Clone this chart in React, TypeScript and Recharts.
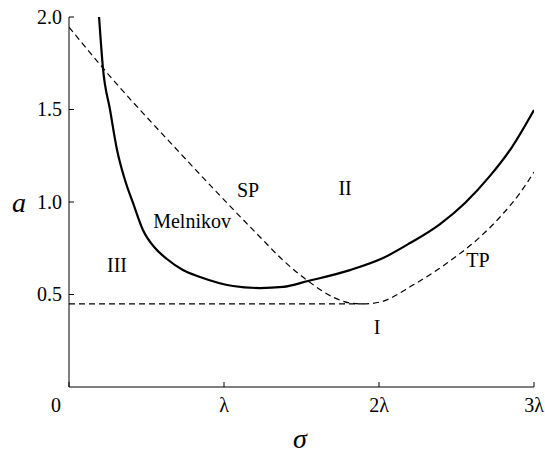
import React from "react";
import {
  LineChart,
  Line,
  XAxis,
  YAxis,
  ReferenceDot,
} from "recharts";

// σ measured in units of λ, a is the forcing amplitude
const melnikovS = [0.194, 0.219, 0.265, 0.31, 0.361, 0.413, 0.477, 0.555, 0.632, 0.735, 0.845, 1.058, 1.232, 1.381, 1.542, 1.813, 2.026, 2.2, 2.394, 2.555, 2.716, 2.858, 3.0];
const melnikovA = [2.0, 1.724, 1.497, 1.281, 1.119, 0.995, 0.849, 0.751, 0.692, 0.632, 0.595, 0.546, 0.535, 0.541, 0.573, 0.632, 0.697, 0.778, 0.881, 0.995, 1.141, 1.297, 1.497];

// saddle-point branch running into the turning-point branch
const sptpS = [0, 0.219, 0.716, 1.232, 1.381, 1.542, 1.703, 1.813, 1.897, 2.006, 2.219, 2.439, 2.652, 2.781, 2.91, 3.0];
const sptpA = [1.945, 1.724, 1.265, 0.811, 0.685, 0.573, 0.486, 0.454, 0.449, 0.459, 0.551, 0.67, 0.811, 0.919, 1.049, 1.162];

// threshold for region I
const thresholdS = [0, 1.9];
const thresholdA = [0.449, 0.449];

const xTicks = [0, 1, 2, 3];
const xTickLabels = ["0", "λ", "2λ", "3λ"];
const yTicks = [0.5, 1.0, 1.5, 2.0];

const regionText = ["III", "Melnikov", "SP", "II", "TP", "I"];
const regionS = [0.31, 0.794, 1.155, 1.781, 2.639, 1.987];
const regionA = [0.66, 0.897, 1.065, 1.076, 0.686, 0.324];

const FONT = "'Liberation Serif', 'Times New Roman', serif";

const zip = (s: number[], a: number[]) => s.map((v, i) => ({ s: v, a: a[i] }));

const melnikov = zip(melnikovS, melnikovA);
const sptp = zip(sptpS, sptpA);
const threshold = zip(thresholdS, thresholdA);
const regions = regionText.map((t, i) => ({ t, s: regionS[i], a: regionA[i] }));

const TICK = 5;

function BottomTick({ x, y, payload }: any) {
  const i = xTicks.indexOf(payload.value);
  const dx = payload.value === 0 ? -13 : 0;
  return (
    <g>
      <line x1={x} x2={x} y1={y} y2={y - TICK} stroke="#000" />
      <text x={x + dx} y={y + 25} textAnchor="middle" fontFamily={FONT} fontSize={20} fill="#000">
        {xTickLabels[i]}
      </text>
    </g>
  );
}

function TopTick({ x, y }: any) {
  return <line x1={x} x2={x} y1={y} y2={y + TICK} stroke="#000" />;
}

function LeftTick({ x, y, payload }: any) {
  return (
    <g>
      <line x1={x} x2={x + TICK} y1={y} y2={y} stroke="#000" />
      <text x={x - 7} y={y} dy="0.34em" textAnchor="end" fontFamily={FONT} fontSize={20} fill="#000">
        {payload.value.toFixed(1)}
      </text>
    </g>
  );
}

function RightTick({ x, y }: any) {
  return <line x1={x} x2={x - TICK} y1={y} y2={y} stroke="#000" />;
}

function RegionLabel(text: string) {
  return ({ cx, cy }: any) => (
    <text x={cx} y={cy} dy="0.34em" textAnchor="middle" fontFamily={FONT} fontSize={20} fill="#000">
      {text}
    </text>
  );
}

export default function App() {
  return (
    <div style={{ position: "absolute", left: 0, top: 0, width: 545, height: 454, background: "#fff" }}>
      <LineChart width={545} height={454} margin={{ top: 17, right: 11, bottom: 0, left: 0 }}>
        <XAxis
          dataKey="s"
          type="number"
          domain={[0, 3]}
          ticks={xTicks}
          height={67}
          tickSize={0}
          tickMargin={0}
          axisLine={{ stroke: "#000" }}
          tick={<BottomTick />}
          allowDataOverflow
        />
        <XAxis
          xAxisId="top"
          orientation="top"
          dataKey="s"
          type="number"
          domain={[0, 3]}
          ticks={xTicks}
          height={0}
          tickSize={0}
          tickMargin={0}
          axisLine={{ stroke: "#000" }}
          tick={<TopTick />}
          allowDataOverflow
        />
        <YAxis
          type="number"
          domain={[0, 2]}
          ticks={yTicks}
          width={69}
          tickSize={0}
          tickMargin={0}
          axisLine={{ stroke: "#000" }}
          tick={<LeftTick />}
          allowDataOverflow
        />
        <YAxis
          yAxisId="right"
          orientation="right"
          type="number"
          domain={[0, 2]}
          ticks={yTicks}
          width={0}
          tickSize={0}
          tickMargin={0}
          axisLine={{ stroke: "#000" }}
          tick={<RightTick />}
          allowDataOverflow
        />

        <Line
          data={threshold}
          dataKey="a"
          type="linear"
          stroke="#000"
          strokeWidth={1.2}
          strokeDasharray="6 4"
          dot={false}
          isAnimationActive={false}
        />
        <Line
          data={sptp}
          dataKey="a"
          type="monotone"
          stroke="#000"
          strokeWidth={1.2}
          strokeDasharray="6 4"
          dot={false}
          isAnimationActive={false}
        />
        <Line
          data={melnikov}
          dataKey="a"
          type="monotone"
          stroke="#000"
          strokeWidth={2.2}
          dot={false}
          isAnimationActive={false}
        />

        {regions.map((r) => (
          <ReferenceDot key={r.t} x={r.s} y={r.a} r={0} shape={RegionLabel(r.t)} />
        ))}
      </LineChart>
      <div
        style={{
          position: "absolute",
          left: 19,
          top: 203,
          transform: "translate(-50%, -50%)",
          fontFamily: FONT,
          fontStyle: "italic",
          fontSize: 28,
          lineHeight: 1,
        }}
      >
        a
      </div>
      <div
        style={{
          position: "absolute",
          left: 300,
          top: 439,
          transform: "translate(-50%, -50%)",
          fontFamily: FONT,
          fontStyle: "italic",
          fontSize: 28,
          lineHeight: 1,
        }}
      >
        σ
      </div>
    </div>
  );
}
